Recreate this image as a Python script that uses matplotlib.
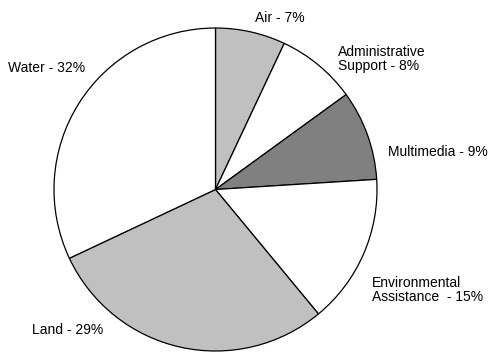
import matplotlib
matplotlib.use("Agg")
from matplotlib import pyplot as plt

# data, clockwise from 12 o'clock
labels = ["Air - 7%", "Administrative\nSupport - 8%", "Multimedia - 9%",
          "Environmental\nAssistance  - 15%", "Land - 29%", "Water - 32%"]
shares = [7, 8, 9, 15, 29, 32]
colors = ["#c0c0c0", "#ffffff", "#808080", "#ffffff", "#c0c0c0", "#ffffff"]

plt.rcParams['font.family'] = ['Liberation Sans Narrow', 'Liberation Sans', 'DejaVu Sans']

W, H = 493, 352
fig = plt.figure(figsize=(W / 100, H / 100), dpi=100)
ax = fig.add_axes([0, 0, 1, 1])
ax.set_xlim(0, W)
ax.set_ylim(0, H)
ax.set_aspect("equal")
ax.axis("off")

ax.pie(shares, colors=colors, startangle=90, counterclock=False,
       center=(215.5, H - 189.5), radius=161.5,
       wedgeprops=dict(edgecolor="black", linewidth=0.9))
ax.set_xlim(0, W)
ax.set_ylim(0, H)

# label placement in pixel coordinates (x, y from top, ha)
label_pos = [(255, 18, "left"), (338, 59, "left"), (388, 152, "left"),
             (372, 290, "left"), (32, 330, "left"), (8, 68, "left")]
for lab, (x, y, ha) in zip(labels, label_pos):
    ax.text(x, H - y, lab, ha=ha, va="center", fontsize=10, linespacing=1.05)

fig.savefig("out.png", dpi=100)
